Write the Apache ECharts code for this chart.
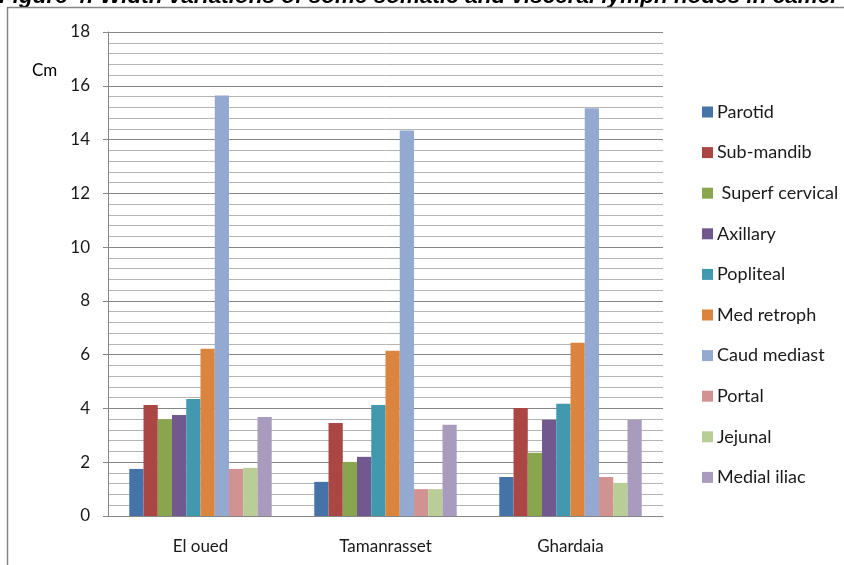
<!DOCTYPE html>
<html>
<head>
<meta charset="utf-8">
<script src="https://cdn.jsdelivr.net/npm/echarts@6/dist/echarts.min.js"></script>
<style>html,body{margin:0;padding:0;background:#fff;}#c{width:844px;height:565px;}</style>
</head>
<body>
<div id="c"></div>
<script>
const categories = ['El oued', 'Tamanrasset', 'Ghardaia'];
const seriesNames = ['Parotid', 'Sub-mandib', ' Superf cervical', 'Axillary', 'Popliteal', 'Med retroph', 'Caud mediast', 'Portal', 'Jejunal', 'Medial iliac'];
const parotid = [1.75, 1.27, 1.45];
const subMandib = [4.13, 3.46, 4.02];
const superfCervical = [3.6, 2.01, 2.35];
const axillary = [3.76, 2.2, 3.58];
const popliteal = [4.35, 4.13, 4.17];
const medRetroph = [6.22, 6.15, 6.44];
const caudMediast = [15.64, 14.34, 15.16];
const portal = [1.75, 1.0, 1.45];
const jejunal = [1.79, 1.0, 1.23];
const medialIliac = [3.68, 3.39, 3.58];
const yTicks = [0, 2, 4, 6, 8, 10, 12, 14, 16, 18];
const colors = ['#4572A7', '#AA4643', '#89A54E', '#71588F', '#4198AF', '#DB843D', '#93A9CF', '#D19392', '#B9CD96', '#A99BBD'];
const values = [parotid, subMandib, superfCervical, axillary, popliteal, medRetroph, caudMediast, portal, jejunal, medialIliac];

const font = 'Lato, "Noto Sans", sans-serif';
const chart = echarts.init(document.getElementById('c'), null, {renderer: 'canvas'});
chart.setOption({
  animation: false,
  color: colors,
  grid: {left: 108, right: 181, top: 32, bottom: 49, containLabel: false},
  legend: {
    orient: 'vertical', left: 697, top: 98,
    itemWidth: 11, itemHeight: 11, itemGap: 22.6, icon: 'rect',
    textStyle: {fontFamily: font, fontSize: 18, color: '#1a1a1a', lineHeight: 18, padding: [0, 0, 0, -1]},
    data: seriesNames
  },
  xAxis: {
    type: 'category', data: categories,
    axisLine: {lineStyle: {color: '#868686', width: 1}},
    axisTick: {show: false},
    axisLabel: {fontFamily: font, fontSize: 17, color: '#1a1a1a', margin: 22}
  },
  yAxis: {
    type: 'value', min: yTicks[0], max: yTicks[yTicks.length - 1], interval: 2,
    axisLine: {show: true, lineStyle: {color: '#868686'}},
    axisTick: {show: true, length: 5, lineStyle: {color: '#868686'}},
    axisLabel: {fontFamily: font, fontSize: 17, color: '#1a1a1a', margin: 18},
    splitLine: {lineStyle: {color: '#868686', width: 1}},
    minorTick: {show: false, splitNumber: 5},
    minorSplitLine: {show: true, lineStyle: {color: '#b4b4b4', width: 1}}
  },
  series: seriesNames.map((n, i) => ({
    name: n, type: 'bar', data: values[i],
    barGap: '0%', barCategoryGap: '23%',
    itemStyle: {color: colors[i]}
  })),
  graphic: [
    {type: 'text', left: -1, top: -15, style: {text: 'Figure 4: Width variations of some somatic and visceral lymph nodes in camel', font: 'italic bold 22.5px "Liberation Sans", Arial, sans-serif', fill: '#000'}},
    {type: 'line', shape: {x1: 7, y1: 7.5, x2: 844, y2: 7.5}, style: {stroke: '#868686', lineWidth: 1.5}},
    {type: 'line', shape: {x1: 7.5, y1: 7, x2: 7.5, y2: 565}, style: {stroke: '#868686', lineWidth: 1.5}},
    {type: 'text', left: 32, top: 62, style: {text: 'Cm', font: '17px ' + font, fill: '#000'}}
  ]
});
</script>
</body>
</html>
